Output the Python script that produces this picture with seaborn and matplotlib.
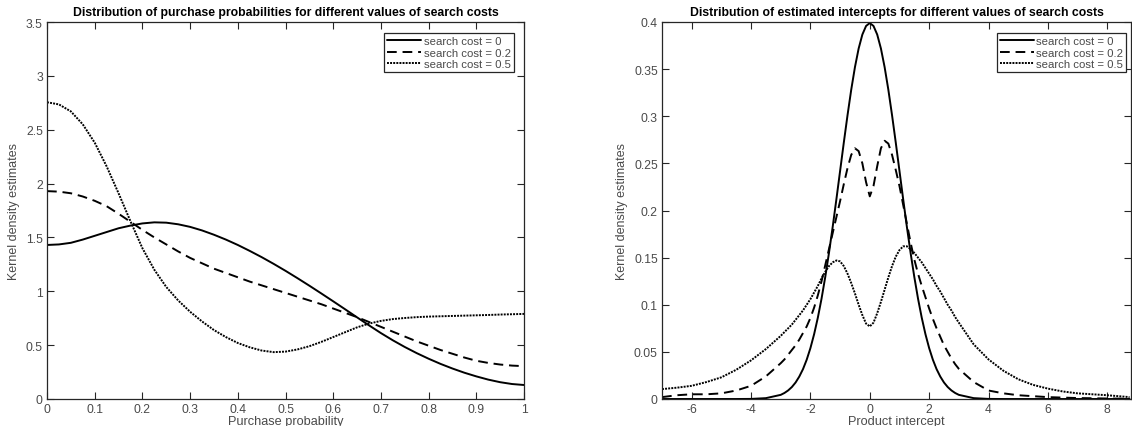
import numpy as np
import pandas as pd
import matplotlib
matplotlib.use("Agg")
import matplotlib.pyplot as plt
import seaborn as sns

# ---------------- data ----------------
labels = ["search cost = 0", "search cost = 0.2", "search cost = 0.5"]

prob_x = [0.0, 0.025, 0.05, 0.075, 0.1, 0.125, 0.15, 0.175, 0.2, 0.225,
          0.25, 0.275, 0.3, 0.325, 0.35, 0.375, 0.4, 0.425, 0.45, 0.475,
          0.5, 0.525, 0.55, 0.575, 0.6, 0.625, 0.65, 0.675, 0.7, 0.725,
          0.75, 0.775, 0.8, 0.825, 0.85, 0.875, 0.9, 0.925, 0.95, 0.975, 1.0]
prob_c0 = [1.43, 1.435, 1.45, 1.48, 1.515, 1.55, 1.585, 1.61, 1.63, 1.64,
           1.637, 1.622, 1.598, 1.565, 1.525, 1.48, 1.43, 1.375, 1.317, 1.255,
           1.19, 1.122, 1.052, 0.98, 0.907, 0.833, 0.758, 0.684, 0.612, 0.545,
           0.483, 0.426, 0.374, 0.326, 0.283, 0.244, 0.21, 0.18, 0.156, 0.139, 0.13]
prob_c02 = [1.93, 1.925, 1.91, 1.88, 1.84, 1.79, 1.72, 1.645, 1.57, 1.50,
            1.435, 1.37, 1.31, 1.26, 1.21, 1.17, 1.13, 1.09, 1.055, 1.02,
            0.985, 0.95, 0.915, 0.88, 0.84, 0.80, 0.76, 0.715, 0.67, 0.625,
            0.58, 0.535, 0.495, 0.455, 0.42, 0.385, 0.355, 0.335, 0.32, 0.31, 0.305]
prob_c05 = [2.755, 2.735, 2.67, 2.55, 2.38, 2.16, 1.91, 1.65, 1.40, 1.20,
            1.04, 0.915, 0.81, 0.72, 0.64, 0.575, 0.52, 0.48, 0.45, 0.435,
            0.44, 0.46, 0.49, 0.53, 0.575, 0.62, 0.665, 0.70, 0.725, 0.742,
            0.752, 0.76, 0.765, 0.768, 0.771, 0.774, 0.777, 0.78, 0.784, 0.787, 0.79]

icpt_x = [-7, -6.5, -6, -5.5, -5, -4.5, -4, -3.5,
          -3, -2.875, -2.75, -2.625, -2.5, -2.375, -2.25, -2.125,
          -2, -1.875, -1.75, -1.625, -1.5, -1.375, -1.25, -1.125,
          -1, -0.875, -0.75, -0.625, -0.5, -0.375, -0.25, -0.125,
          0, 0.125, 0.25, 0.375, 0.5, 0.625, 0.75, 0.875,
          1, 1.125, 1.25, 1.375, 1.5, 1.625, 1.75, 1.875,
          2, 2.125, 2.25, 2.375, 2.5, 2.625, 2.75, 2.875,
          3, 3.5, 4, 4.5, 5, 5.5, 6, 6.5, 7, 7.5, 8, 8.75]
icpt_c0 = [0, 0, 0, 0, 0, 0, 0.0001, 0.0009,
           0.0044, 0.0064, 0.0091, 0.0127, 0.0175, 0.0238, 0.0317, 0.0417,
           0.0540, 0.0688, 0.0863, 0.1065, 0.1295, 0.1550, 0.1826, 0.2119,
           0.2420, 0.2721, 0.3011, 0.3282, 0.3521, 0.3719, 0.3867, 0.3958,
           0.3989, 0.3958, 0.3867, 0.3719, 0.3521, 0.3282, 0.3011, 0.2721,
           0.2420, 0.2119, 0.1826, 0.1550, 0.1295, 0.1065, 0.0863, 0.0688,
           0.0540, 0.0417, 0.0317, 0.0238, 0.0175, 0.0127, 0.0091, 0.0064,
           0.0044, 0.0009, 0.0001, 0, 0, 0, 0, 0, 0, 0, 0, 0]
icpt_c02 = [0.002, 0.004, 0.005, 0.005, 0.006, 0.009, 0.014, 0.024,
            0.038, 0.042, 0.047, 0.052, 0.057, 0.063, 0.070, 0.077,
            0.086, 0.097, 0.110, 0.125, 0.142, 0.159, 0.176, 0.193,
            0.210, 0.228, 0.245, 0.259, 0.266, 0.263, 0.250, 0.230,
            0.215, 0.226, 0.247, 0.266, 0.274, 0.271, 0.259, 0.243,
            0.226, 0.206, 0.186, 0.166, 0.148, 0.133, 0.120, 0.108,
            0.096, 0.085, 0.075, 0.066, 0.057, 0.050, 0.043, 0.037,
            0.032, 0.018, 0.009, 0.006, 0.004, 0.003, 0.002, 0.0015,
            0.001, 0.0008, 0.0005, 0.0003]
icpt_c05 = [0.0105, 0.012, 0.014, 0.018, 0.023, 0.031, 0.041, 0.053,
            0.067, 0.071, 0.075, 0.079, 0.084, 0.089, 0.094, 0.100,
            0.106, 0.113, 0.120, 0.128, 0.135, 0.141, 0.145, 0.147,
            0.146, 0.141, 0.133, 0.123, 0.112, 0.100, 0.089, 0.080,
            0.077, 0.081, 0.091, 0.103, 0.116, 0.129, 0.141, 0.151,
            0.158, 0.162, 0.162, 0.159, 0.155, 0.150, 0.145, 0.139,
            0.133, 0.127, 0.120, 0.114, 0.107, 0.100, 0.094, 0.087,
            0.081, 0.058, 0.042, 0.030, 0.021, 0.015, 0.011, 0.008,
            0.006, 0.005, 0.004, 0.002]

left_yticks = [0, 0.5, 1, 1.5, 2, 2.5, 3, 3.5]
left_yticklabels = ["0", "0.5", "1", "1.5", "2", "2.5", "3", "3.5"]
left_xticks = [0, 0.1, 0.2, 0.3, 0.4, 0.5, 0.6, 0.7, 0.8, 0.9, 1]
left_xticklabels = ["0", "0.1", "0.2", "0.3", "0.4", "0.5", "0.6", "0.7", "0.8", "0.9", "1"]
right_yticks = [0, 0.05, 0.1, 0.15, 0.2, 0.25, 0.3, 0.35, 0.4]
right_yticklabels = ["0", "0.05", "0.1", "0.15", "0.2", "0.25", "0.3", "0.35", "0.4"]
right_xticks = [-6, -4, -2, 0, 2, 4, 6, 8]
right_xticklabels = ["-6", "-4", "-2", "0", "2", "4", "6", "8"]

# ---------------- style ----------------
sns.set_theme(style="white")
plt.rcParams["font.family"] = ["Liberation Sans", "DejaVu Sans"]
axis_col = "#262626"
text_col = "#4a4a4a"

fig = plt.figure(figsize=(11.32, 4.27), dpi=100)
ax1 = fig.add_axes([47 / 1132, 27 / 427, 477 / 1132, 377 / 427])
ax2 = fig.add_axes([662 / 1132, 27 / 427, 469 / 1132, 377 / 427])

styles = ["-", (0, (5, 3)), (0, (1, 0.6))]


def style_axes(ax):
    for s in ax.spines.values():
        s.set_visible(True)
        s.set_color(axis_col)
        s.set_linewidth(0.9)
    ax.tick_params(direction="in", length=5, width=0.8, colors=axis_col,
                   labelcolor=text_col, labelsize=8.7, top=True, right=True,
                   bottom=True, left=True, pad=3)


# Left panel
for ys, lab, ls in [(prob_c0, labels[0], styles[0]),
                    (prob_c02, labels[1], styles[1]),
                    (prob_c05, labels[2], styles[2])]:
    sns.lineplot(x=prob_x, y=ys, ax=ax1, color="black", linewidth=1.4,
                 linestyle=ls, label=lab, sort=False)
ax1.set_xlim(0, 1)
ax1.set_ylim(0, 3.5)
ax1.set_xticks(left_xticks)
ax1.set_xticklabels(left_xticklabels)
ax1.set_yticks(left_yticks)
ax1.set_yticklabels(left_yticklabels)
ax1.set_xlabel("Purchase probability", fontsize=9.2, color=text_col, labelpad=0)
ax1.set_ylabel("Kernel density estimates", fontsize=9.0, color=text_col, labelpad=4)
ax1.set_title("Distribution of purchase probabilities for different values of search costs",
              fontsize=8.8, fontweight="bold", color="black", pad=5)
style_axes(ax1)

# Right panel
for ys, lab, ls in [(icpt_c0, labels[0], styles[0]),
                    (icpt_c02, labels[1], styles[1]),
                    (icpt_c05, labels[2], styles[2])]:
    sns.lineplot(x=icpt_x, y=ys, ax=ax2, color="black", linewidth=1.4,
                 linestyle=ls, label=lab, sort=False)
ax2.set_xlim(-7, 8.8)
ax2.set_ylim(0, 0.4)
ax2.set_xticks(right_xticks)
ax2.set_xticklabels(right_xticklabels)
ax2.set_yticks(right_yticks)
ax2.set_yticklabels(right_yticklabels)
ax2.set_xlabel("Product intercept", fontsize=9.2, color=text_col, labelpad=0)
ax2.set_ylabel("Kernel density estimates", fontsize=9.0, color=text_col, labelpad=4)
ax2.set_title("Distribution of estimated intercepts for different values of search costs",
              fontsize=8.8, fontweight="bold", color="black", pad=5)
style_axes(ax2)

for ax, bbox in ((ax1, (0.978, 0.97)), (ax2, (0.99, 0.97))):
    leg = ax.legend(loc="upper right", bbox_to_anchor=bbox, fontsize=8.2,
                    frameon=True, fancybox=False,
                    edgecolor=axis_col, framealpha=1, handlelength=3.0,
                    handletextpad=0.2, borderpad=0.25, labelspacing=0.12,
                    borderaxespad=0.0)
    leg.get_frame().set_linewidth(0.9)
    for t in leg.get_texts():
        t.set_color(text_col)

fig.savefig("out.png", dpi=100)
